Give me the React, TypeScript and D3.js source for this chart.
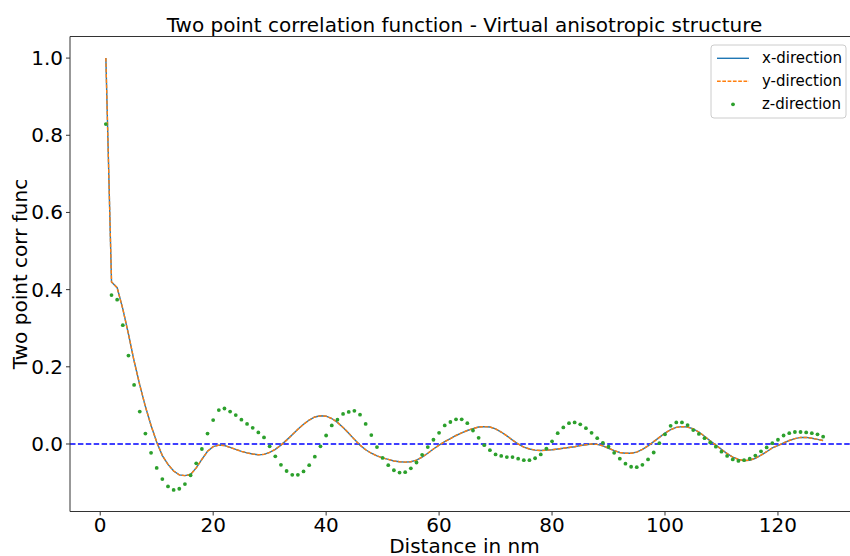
import React from "react";
import * as d3 from "d3";

const distance: number[] = d3.range(1, 129);

const xDirection: number[] = [
  1.0, 0.420, 0.405, 0.350, 0.285, 0.215, 0.153, 0.097, 0.048, 0.005,
  -0.030, -0.053, -0.070, -0.080, -0.082, -0.079, -0.062, -0.040, -0.019, -0.007,
  -0.003, -0.004, -0.009, -0.014, -0.019, -0.023, -0.026, -0.028, -0.027, -0.022,
  -0.014, -0.003, 0.010, 0.024, 0.038, 0.051, 0.062, 0.070, 0.073, 0.072,
  0.066, 0.056, 0.043, 0.028, 0.012, -0.003, -0.015, -0.024, -0.031, -0.036,
  -0.040, -0.044, -0.046, -0.047, -0.046, -0.042, -0.034, -0.024, -0.013, -0.003,
  0.006, 0.014, 0.022, 0.029, 0.035, 0.040, 0.044, 0.045, 0.044, 0.039,
  0.031, 0.021, 0.010, 0.000, -0.008, -0.013, -0.016, -0.017, -0.016, -0.015,
  -0.013, -0.011, -0.009, -0.007, -0.004, -0.002, 0.000, -0.001, -0.005, -0.011,
  -0.017, -0.022, -0.024, -0.024, -0.021, -0.014, -0.005, 0.006, 0.017, 0.028,
  0.037, 0.043, 0.045, 0.044, 0.039, 0.031, 0.020, 0.008, -0.003, -0.014,
  -0.025, -0.034, -0.040, -0.043, -0.042, -0.037, -0.029, -0.020, -0.010, -0.004,
  0.003, 0.009, 0.014, 0.017, 0.017, 0.015, 0.012, 0.009,
];

const yDirection: number[] = [
  1.0, 0.420, 0.405, 0.350, 0.285, 0.215, 0.153, 0.097, 0.048, 0.005,
  -0.030, -0.053, -0.070, -0.080, -0.082, -0.079, -0.062, -0.040, -0.019, -0.007,
  -0.003, -0.004, -0.009, -0.014, -0.019, -0.023, -0.026, -0.028, -0.027, -0.022,
  -0.014, -0.003, 0.010, 0.024, 0.038, 0.051, 0.062, 0.070, 0.073, 0.072,
  0.066, 0.056, 0.043, 0.028, 0.012, -0.003, -0.015, -0.024, -0.031, -0.036,
  -0.040, -0.044, -0.046, -0.047, -0.046, -0.042, -0.034, -0.024, -0.013, -0.003,
  0.006, 0.014, 0.022, 0.029, 0.035, 0.040, 0.044, 0.045, 0.044, 0.039,
  0.031, 0.021, 0.010, 0.000, -0.008, -0.013, -0.016, -0.017, -0.016, -0.015,
  -0.013, -0.011, -0.009, -0.007, -0.004, -0.002, 0.000, -0.001, -0.005, -0.011,
  -0.017, -0.022, -0.024, -0.024, -0.021, -0.014, -0.005, 0.006, 0.017, 0.028,
  0.037, 0.043, 0.045, 0.044, 0.039, 0.031, 0.020, 0.008, -0.003, -0.014,
  -0.025, -0.034, -0.040, -0.043, -0.042, -0.037, -0.029, -0.020, -0.010, -0.004,
  0.003, 0.009, 0.014, 0.017, 0.017, 0.015, 0.012, 0.009,
];

const zDirection: number[] = [
  0.829, 0.386, 0.374, 0.308, 0.229, 0.153, 0.084, 0.027, -0.023, -0.062,
  -0.091, -0.110, -0.119, -0.116, -0.104, -0.081, -0.050, -0.013, 0.027, 0.062,
  0.088, 0.092, 0.084, 0.075, 0.063, 0.052, 0.042, 0.030, 0.017, -0.006,
  -0.032, -0.054, -0.070, -0.080, -0.080, -0.071, -0.055, -0.033, -0.006, 0.022,
  0.048, 0.063, 0.078, 0.083, 0.086, 0.076, 0.052, 0.023, -0.008, -0.036,
  -0.055, -0.068, -0.074, -0.073, -0.063, -0.048, -0.028, -0.008, 0.011, 0.029,
  0.048, 0.057, 0.064, 0.064, 0.054, 0.035, 0.016, -0.003, -0.016, -0.027,
  -0.031, -0.034, -0.034, -0.038, -0.042, -0.042, -0.037, -0.027, -0.012, 0.007,
  0.028, 0.043, 0.054, 0.056, 0.051, 0.041, 0.029, 0.015, 0.003, -0.007,
  -0.023, -0.038, -0.051, -0.059, -0.060, -0.054, -0.040, -0.022, 0.002, 0.025,
  0.047, 0.056, 0.056, 0.049, 0.036, 0.026, 0.015, 0.004, -0.007, -0.020,
  -0.031, -0.040, -0.044, -0.042, -0.038, -0.030, -0.019, -0.009, 0.002, 0.011,
  0.022, 0.028, 0.031, 0.031, 0.030, 0.028, 0.025, 0.019,
];

const xTicks: number[] = [0, 20, 40, 60, 80, 100, 120];
const yTicks: number[] = [0.0, 0.2, 0.4, 0.6, 0.8, 1.0];
const legendLabels: string[] = ["x-direction", "y-direction", "z-direction"];

const W = 850;
const H = 556;
const FONT = "DejaVu Sans, sans-serif";

export default function App() {
  const left = 70;
  const right = 859;
  const top = 36.5;
  const bottom = 511.5;

  const xMin = 1, xMax = 128;
  const xPad = (xMax - xMin) * 0.05;
  const allY = [...xDirection, ...yDirection, ...zDirection];
  const yLo = d3.min(allY)!, yHi = d3.max(allY)!;
  const yPad = (yHi - yLo) * 0.05;

  const x = d3.scaleLinear().domain([xMin - xPad, xMax + xPad]).range([left, right]);
  const y = d3.scaleLinear().domain([yLo - yPad, yHi + yPad]).range([bottom, top]);

  const line = d3
    .line<number>()
    .x((_, i) => x(distance[i]))
    .y((v) => y(v));

  const clipId = "plotclip";
  const spine = "#333";

  return (
    <svg
      width={W}
      height={H}
      style={{ position: "absolute", left: 0, top: 0, display: "block", background: "#fff" }}
      fontFamily={FONT}
    >
      <defs>
        <clipPath id={clipId}>
          <rect x={left} y={top} width={right - left} height={bottom - top} />
        </clipPath>
      </defs>
      <rect x={0} y={0} width={W} height={H} fill="#fff" />

      {/* title */}
      <text x={(left + right) / 2} y={32} textAnchor="middle" fontSize={20} fill="#000">
        Two point correlation function - Virtual anisotropic structure
      </text>

      <g clipPath={`url(#${clipId})`}>
        <line
          x1={left}
          x2={right}
          y1={y(0)}
          y2={y(0)}
          stroke="#0000ff"
          strokeWidth={1.5}
          strokeDasharray="5.5,2.4"
        />
        <path d={line(xDirection) || ""} fill="none" stroke="#1f77b4" strokeWidth={1.4} />
        <path
          d={line(yDirection) || ""}
          fill="none"
          stroke="#ff7f0e"
          strokeWidth={1.4}
          strokeDasharray="3.7,1.6"
        />
        {zDirection.map((v, i) => (
          <circle key={i} cx={x(distance[i])} cy={y(v)} r={1.9} fill="#2ca02c" />
        ))}
      </g>

      {/* spines */}
      <line x1={left} x2={left} y1={top} y2={bottom} stroke={spine} strokeWidth={1} />
      <line x1={left} x2={right} y1={bottom} y2={bottom} stroke={spine} strokeWidth={1} />
      <line x1={left} x2={right} y1={top} y2={top} stroke={spine} strokeWidth={1} />
      <line x1={right} x2={right} y1={top} y2={bottom} stroke={spine} strokeWidth={1} />

      {/* x ticks */}
      {xTicks.map((t) => (
        <g key={"x" + t}>
          <line x1={x(t)} x2={x(t)} y1={bottom} y2={bottom + 4} stroke={spine} strokeWidth={1} />
          <text x={x(t)} y={532} textAnchor="middle" fontSize={20} fill="#000">
            {t}
          </text>
        </g>
      ))}

      {/* y ticks */}
      {yTicks.map((t) => (
        <g key={"y" + t}>
          <line x1={left - 4} x2={left} y1={y(t)} y2={y(t)} stroke={spine} strokeWidth={1} />
          <text
            x={left - 7}
            y={y(t)}
            textAnchor="end"
            dominantBaseline="central"
            fontSize={20}
            fill="#000"
          >
            {t.toFixed(1)}
          </text>
        </g>
      ))}

      {/* axis labels */}
      <text x={(left + right) / 2} y={553} textAnchor="middle" fontSize={20} fill="#000">
        Distance in nm
      </text>
      <text
        transform={`translate(27,${(top + bottom) / 2}) rotate(-90)`}
        textAnchor="middle"
        fontSize={20}
        fill="#000"
      >
        Two point corr func
      </text>

      {/* legend */}
      <g>
        <rect
          x={711}
          y={45}
          width={135}
          height={73}
          rx={3}
          fill="#fff"
          fillOpacity={0.8}
          stroke="#cccccc"
          strokeWidth={1}
        />
        {legendLabels.map((lab, i) => {
          const cy = 58.3 + i * 23;
          return (
            <g key={lab}>
              {i === 0 && (
                <line x1={717} x2={749} y1={cy} y2={cy} stroke="#1f77b4" strokeWidth={1.4} />
              )}
              {i === 1 && (
                <line
                  x1={717}
                  x2={749}
                  y1={cy}
                  y2={cy}
                  stroke="#ff7f0e"
                  strokeWidth={1.4}
                  strokeDasharray="3.7,1.6"
                />
              )}
              {i === 2 && <circle cx={733} cy={cy} r={1.9} fill="#2ca02c" />}
              <text x={762} y={cy} dominantBaseline="central" fontSize={15} fill="#000">
                {lab}
              </text>
            </g>
          );
        })}
      </g>
    </svg>
  );
}
